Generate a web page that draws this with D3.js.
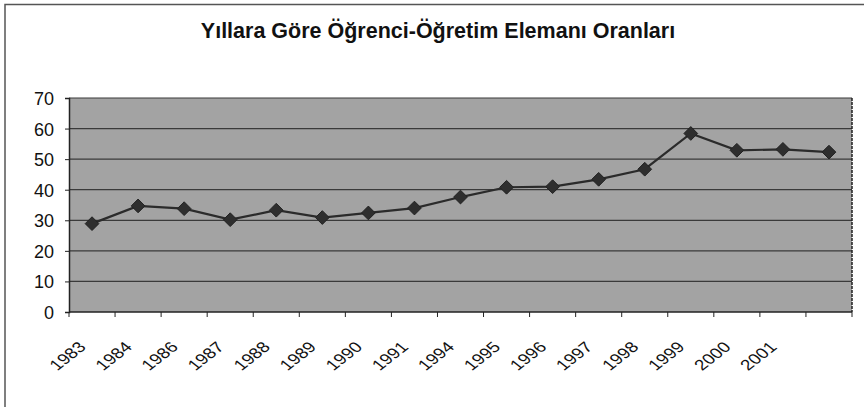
<!DOCTYPE html>
<html>
<head>
<meta charset="utf-8">
<script src="https://cdn.jsdelivr.net/npm/d3@7"></script>
<style>
  body { margin: 0; background: #fff; }
  svg { display: block; font-family: Arial, "Liberation Sans", sans-serif; }
</style>
</head>
<body>
<div id="chart"></div>
<script>
// Data
const categories = ["1983", "1984", "1986", "1987", "1988", "1989", "1990", "1991",
  "1994", "1995", "1996", "1997", "1998", "1999", "2000", "2001", ""];
const ratios = [28.9, 34.7, 33.8, 30.2, 33.3, 30.9, 32.4, 34.0,
  37.6, 40.8, 41.0, 43.4, 46.7, 58.4, 52.9, 53.2, 52.3];
const yTicks = [0, 10, 20, 30, 40, 50, 60, 70];
const title = "Yıllara Göre Öğrenci-Öğretim Elemanı Oranları";

const width = 864;
const height = 407;
const margin = { top: 98, right: 12, bottom: 95, left: 69 };
const plotW = width - margin.left - margin.right;
const plotH = height - margin.top - margin.bottom;

const svg = d3.select("#chart")
  .append("svg")
  .attr("width", width)
  .attr("height", height);

// Outer chart frame
svg.append("path")
  .attr("d", `M5,${height + 2} V4.5 H${width + 2}`)
  .attr("fill", "none")
  .attr("stroke", "#555")
  .attr("stroke-width", 1.5);

svg.append("text")
  .attr("x", 438)
  .attr("y", 38)
  .attr("text-anchor", "middle")
  .style("font-size", "21.5px")
  .style("font-weight", "bold")
  .style("fill", "#111")
  .text(title);

const g = svg.append("g")
  .attr("transform", `translate(${margin.left}, ${margin.top})`);

const x = d3.scaleBand()
  .domain(d3.range(categories.length))
  .range([0, plotW]);

const y = d3.scaleLinear()
  .domain([0, 70])
  .range([plotH, 0]);

// Plot background
g.append("rect")
  .attr("width", plotW)
  .attr("height", plotH)
  .attr("fill", "#a3a3a3");

// Gridlines
g.selectAll(".grid")
  .data(yTicks.filter(d => d > 0))
  .enter()
  .append("line")
  .attr("class", "grid")
  .attr("x1", 0)
  .attr("x2", plotW)
  .attr("y1", d => y(d))
  .attr("y2", d => y(d))
  .attr("stroke", "#3a3a3a")
  .attr("stroke-width", 1.2);

// right edge of plot
g.append("line")
  .attr("x1", plotW).attr("x2", plotW)
  .attr("y1", 0).attr("y2", plotH)
  .attr("stroke", "#222")
  .attr("stroke-width", 1.5)
  .attr("stroke-dasharray", "3,1");

// Y-axis
const yAxis = g.append("g")
  .call(d3.axisLeft(y).tickValues(yTicks).tickSize(4).tickPadding(11));
yAxis.selectAll("text")
  .attr("dy", "0.36em")
  .style("font-size", "18px")
  .style("font-family", "Arial, 'Liberation Sans', sans-serif")
  .style("fill", "#111");

// X-axis: ticks at band edges
const xAxis = g.append("g")
  .attr("transform", `translate(0, ${plotH})`);
xAxis.append("line")
  .attr("x1", 0).attr("x2", plotW)
  .attr("stroke", "#222")
  .attr("stroke-width", 1.5);
xAxis.selectAll(".xtick")
  .data(d3.range(categories.length + 1))
  .enter()
  .append("line")
  .attr("class", "xtick")
  .attr("x1", d => d * x.step())
  .attr("x2", d => d * x.step())
  .attr("y1", 0)
  .attr("y2", 5)
  .attr("stroke", "#222");

// labels look stretched sideways in the scan, so scale after rotating
xAxis.selectAll(".xlabel")
  .data(categories)
  .enter()
  .append("text")
  .attr("class", "xlabel")
  .attr("transform", (d, i) => `translate(${x(i) + x.bandwidth() / 2 - 5}, 36) scale(1.15, 0.9) rotate(-45)`)
  .attr("text-anchor", "end")
  .style("font-size", "16.5px")
  .style("fill", "#111")
  .text(d => d);

yAxis.selectAll(".domain, .tick line").style("stroke", "#222");
yAxis.select(".domain").style("stroke-width", 1.5);

// Line
const line = d3.line()
  .x((d, i) => x(i) + x.bandwidth() / 2)
  .y(d => y(d));

g.append("path")
  .datum(ratios)
  .attr("fill", "none")
  .attr("stroke", "#2b2b2b")
  .attr("stroke-width", 2.2)
  .attr("d", line);

// Diamond markers
g.selectAll(".marker")
  .data(ratios)
  .enter()
  .append("path")
  .attr("class", "marker")
  .attr("transform", (d, i) => `translate(${x(i) + x.bandwidth() / 2}, ${y(d)})`)
  .attr("d", d3.symbol().type(d3.symbolDiamond2).size(120))
  .attr("fill", "#2e2e2e")
  .attr("stroke", "#222")
  .attr("stroke-width", 1);
</script>
</body>
</html>
